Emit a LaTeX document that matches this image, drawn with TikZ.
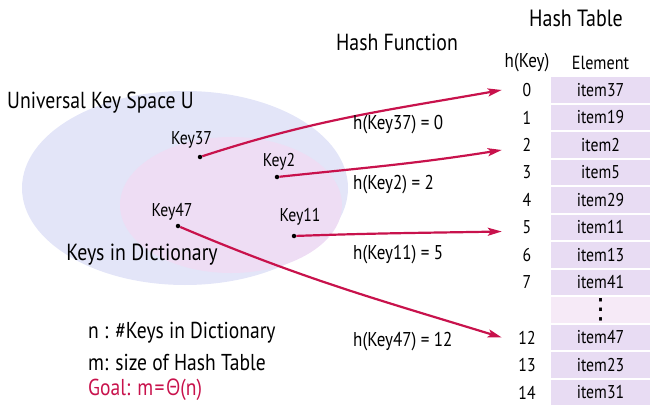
\documentclass[tikz,border=0pt]{standalone}
\usepackage{fontspec}
\setmainfont{PT Sans}[FakeStretch=0.85]
\newfontfamily\greekfont{Open Sans}[FakeStretch=0.8]
\newfontfamily\dotsfont{DejaVu Sans}
\usetikzlibrary{positioning,arrows.meta}
\definecolor{hashred}{HTML}{C8124C}
\definecolor{univblue}{HTML}{E3E5F8}
\definecolor{dictpink}{HTML}{EEDDF4}
\definecolor{cellpurple}{HTML}{E8DCF3}
\definecolor{dotspink}{HTML}{F6EAF7}
\newcommand{\fs}[1]{\fontsize{#1}{#1}\selectfont}
\tikzset{
  keydot/.style={circle, fill=black, inner sep=0pt, minimum size=4.5pt},
  keylabel/.style={font=\fs{18.5}, inner sep=0pt},
  hashlabel/.style={font=\fs{20}, anchor=west, inner sep=0pt},
  cell/.style={fill=cellpurple, minimum width=99pt, minimum height=25.5pt, inner sep=0pt, font=\fs{18.5}},
  idx/.style={minimum width=50pt, inner sep=0pt, font=\fs{18.5}},
  hasharrow/.style={draw=hashred, line width=2.2pt, -{Stealth[length=14pt,width=8pt,inset=3pt]}},
  notes/.style={font=\fs{23}, anchor=west, inner sep=0pt},
}

\begin{document}
\begin{tikzpicture}[x=1pt,y=1pt]
  \useasboundingbox (0,0) rectangle (650,413);
  \fill[univblue] (185,225) ellipse [x radius=163, y radius=97];
  \fill[dictpink] (231,208) ellipse [x radius=111, y radius=68];
  \node[font=\fs{23.2}, anchor=west, inner sep=0pt] (univ) at (7,310) {Universal Key Space U};
  \node[font=\fs{23.3}, inner sep=0pt] (dict) at (142,158) {Keys in Dictionary};
  \node[keydot] (k37) at (200,256) {};
  \node[keydot] (k2) at (277,236) {};
  \node[keydot] (k47) at (178,187) {};
  \node[keydot] (k11) at (294,177) {};
  \node[keylabel] (k37label) at (191.5,273) {Key37};
  \node[keylabel] (k2label) at (279,251) {Key2};
  \node[keylabel] (k47label) at (172,201) {Key47};
  \node[keylabel] (k11label) at (300,196) {Key11};
  \node[font=\fs{23.3}, inner sep=0pt] (hashfn) at (397,371) {Hash Function};
  \node[font=\fs{23.5}, inner sep=0pt] (hashtab) at (576,395) {Hash Table};
  \foreach \k/\i/\v in {0/0/item37,1/1/item19,2/2/item2,3/3/item5,4/4/item29,5/5/item11,6/6/item13,7/7/item41,9/12/item47,10/13/item23,11/14/item31}{
    \node[cell] (cell\i) at (600.5,{323-27.5*\k}) {\v};
    \node[idx] (idx\i) at (527,{323-27.5*\k}) {\i};
  }
  \node[cell, fill=dotspink, font=\dotsfont\fs{28}] (celldots) at (600.5,{323-27.5*8}) {⋮};
  \node[on grid, above=27pt of idx0, font=\fs{20}] (hkey) {h(Key)};
  \node[on grid, above=27pt of cell0, font=\fs{19}] (elem) {Element};
  \draw[hasharrow] (k37) to[out=18,in=190] (idx0.west);
  \draw[hasharrow] (k2) to[out=6,in=189] ([yshift=-5pt]idx2.west);
  \draw[hasharrow] (k11) to[out=2,in=181] ([yshift=-4pt]idx5.west);
  \draw[hasharrow] (k47) to[out=-23,in=163] (idx12.west);
  \node[hashlabel] (h37) at (353,288) {h(Key37) = 0};
  \node[hashlabel] (h2) at (353,228) {h(Key2) = 2};
  \node[hashlabel] (h11) at (353,158) {h(Key11) = 5};
  \node[hashlabel] (h47) at (353,71) {h(Key47) = 12};
  \node[notes] (nline) at (88,80) {n : \#Keys in Dictionary};
  \node[notes] (mline) at (88,51) {m: size of Hash Table};
  \node[notes, text=hashred] (goal) at (88,23) {Goal: m\kern1.5pt=\kern1.5pt{\greekfont Θ}(n)};
\end{tikzpicture}
\end{document}
